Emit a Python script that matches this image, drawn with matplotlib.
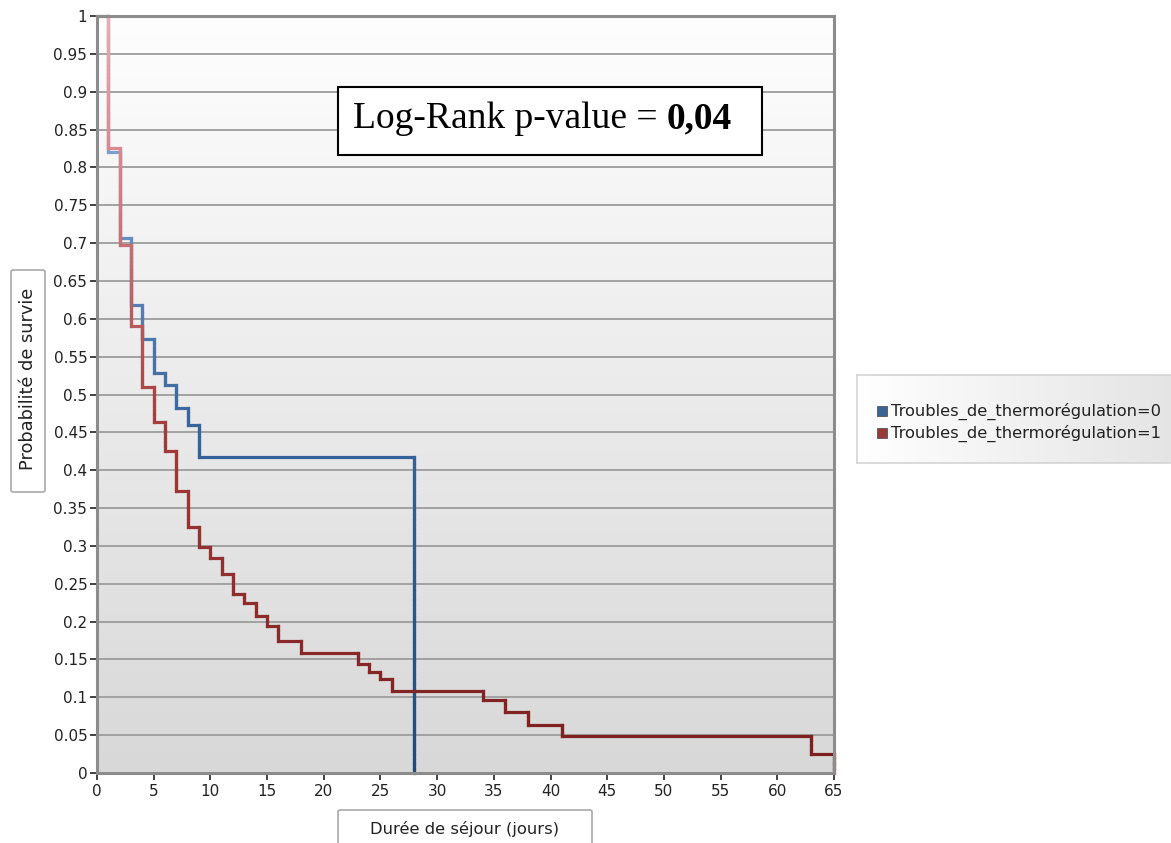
import numpy as np
import matplotlib
matplotlib.use("Agg")
import matplotlib.pyplot as plt
from matplotlib.collections import LineCollection
from matplotlib.colors import LinearSegmentedColormap
from matplotlib.patches import Rectangle, FancyBboxPatch

# Kaplan-Meier step curves: event times (days) and survival after each drop
times_0 = [0, 1, 2, 3, 4, 5, 6, 7, 8, 9, 28]
surv_0 = [1.0, 0.82, 0.707, 0.618, 0.573, 0.529, 0.513, 0.482, 0.46, 0.418, 0.0]
end_0 = 28

times_1 = [0, 1, 2, 3, 4, 5, 6, 7, 8, 9, 10, 11, 12, 13, 14, 15, 16, 18,
           23, 24, 25, 26, 34, 36, 38, 41, 63, 65]
surv_1 = [1.0, 0.826, 0.697, 0.59, 0.51, 0.464, 0.426, 0.373, 0.325, 0.298,
          0.284, 0.263, 0.237, 0.225, 0.207, 0.194, 0.174, 0.159,
          0.144, 0.134, 0.124, 0.108, 0.096, 0.080, 0.064, 0.049, 0.025, 0.0]
end_1 = 65

labels = ["Troubles_de_thermorégulation=0", "Troubles_de_thermorégulation=1"]
x_ticks = list(range(0, 66, 5))
y_ticks = [round(v * 0.05, 2) for v in range(21)]
pvalue_text = "0,04"

W, H = 1171, 843
fig = plt.figure(figsize=(W / 100, H / 100), dpi=100)
fig.patch.set_facecolor("white")

ax = fig.add_axes([97 / W, 1 - 773 / H, (834 - 97) / W, (773 - 16) / H])
ax.set_xlim(0, 65)
ax.set_ylim(0, 1)

# vertical gradient background of the plotting area
grad = np.linspace(0, 1, 256).reshape(-1, 1)
bg = LinearSegmentedColormap.from_list("bg", ["#d8d8d8", "#fefefe"])
ax.imshow(grad, extent=[0, 65, 0, 1], origin="lower", aspect="auto",
          cmap=bg, zorder=0, interpolation="bicubic")

for yv in y_ticks[1:-1]:
    ax.axhline(yv, color="#9c9c9c", lw=1.3, zorder=1)


def step_segments(t, s, t_end):
    pts = []
    for i in range(len(t)):
        if i > 0:
            pts.append((t[i], s[i - 1]))
        pts.append((t[i], s[i]))
    if t[-1] < t_end:
        pts.append((t_end, s[-1]))
    # subdivide so the colour can follow the height
    segs, mids = [], []
    for (x0, y0), (x1, y1) in zip(pts[:-1], pts[1:]):
        n = max(1, int(abs(y1 - y0) / 0.005))
        xs = np.linspace(x0, x1, n + 1)
        ys = np.linspace(y0, y1, n + 1)
        for k in range(n):
            segs.append([(xs[k], ys[k]), (xs[k + 1], ys[k + 1])])
            mids.append(0.5 * (ys[k] + ys[k + 1]))
    return segs, np.array(mids)


cmap_0 = LinearSegmentedColormap.from_list(
    "c0", [(0, "#1f4b7c"), (0.45, "#36649a"), (0.75, "#6d95c6"), (1, "#9ab8dc")])
cmap_1 = LinearSegmentedColormap.from_list(
    "c1", [(0, "#7a1e1e"), (0.45, "#a33a3a"), (0.75, "#cf7b7f"), (1, "#eeaab2")])

for t, s, te, cm, z in [(times_0, surv_0, end_0, cmap_0, 3),
                        (times_1, surv_1, end_1, cmap_1, 4)]:
    segs, mids = step_segments(t, s, te)
    lc = LineCollection(segs, cmap=cm, norm=plt.Normalize(0, 1),
                        linewidths=2.3, capstyle="projecting", zorder=z,
                        clip_on=False)
    lc.set_array(mids)
    ax.add_collection(lc)

ax.set_xticks(x_ticks)
ax.set_yticks(y_ticks)
ax.set_yticklabels([("%g" % v) for v in y_ticks])
ax.tick_params(axis="both", labelsize=11, colors="#222222",
               length=5, width=1.2, direction="out")
ax.tick_params(axis="x", pad=3)
ax.tick_params(axis="y", pad=2)
for sp in ax.spines.values():
    sp.set_color("#8c8c8c")
    sp.set_linewidth(2.2)
    sp.set_zorder(5)

# statistics box
fig.patches.append(Rectangle((338 / W, 1 - 155 / H), (762 - 338) / W,
                             (155 - 87) / H, transform=fig.transFigure,
                             facecolor="white", edgecolor="black", lw=1.5))
split_x = 667 / W
text_y = 1 - 119 / H
fig.text(split_x, text_y, "Log-Rank p-value = ", ha="right", va="center",
         fontsize=27, family="Liberation Serif")
fig.text(split_x, text_y, pvalue_text, ha="left", va="center",
         fontsize=27, family="Liberation Serif", fontweight="bold")

# axis title boxes
fig.patches.append(FancyBboxPatch((11 / W, 1 - 492 / H), (45 - 11) / W,
                                  (492 - 270) / H, boxstyle="round,pad=0,rounding_size=0.002",
                                  transform=fig.transFigure, facecolor="white",
                                  edgecolor="#a9a9a9", lw=1.2))
fig.text(28 / W, 1 - 379 / H, "Probabilité de survie", rotation=90,
         ha="center", va="center", fontsize=12.8, color="#222222")

fig.patches.append(FancyBboxPatch((338 / W, -0.02), (592 - 338) / W,
                                  0.02 + (843 - 810) / H,
                                  boxstyle="round,pad=0,rounding_size=0.002",
                                  transform=fig.transFigure, facecolor="white",
                                  edgecolor="#a9a9a9", lw=1.2))
fig.text(465 / W, 1 - 829 / H, "Durée de séjour (jours)",
         ha="center", va="center", fontsize=11.8, color="#222222")

# legend panel
lx0, ly0, lx1, ly1 = 857, 375, 1175, 463
lax = fig.add_axes([lx0 / W, 1 - ly1 / H, (lx1 - lx0) / W, (ly1 - ly0) / H])
lgrad = np.linspace(0, 1, 256).reshape(1, -1)
lax.imshow(lgrad, extent=[0, 1, 0, 1], aspect="auto",
           cmap=LinearSegmentedColormap.from_list("lg", ["#ffffff", "#e4e4e4"]))
lax.set_xlim(0, 1)
lax.set_ylim(0, 1)
lax.set_xticks([])
lax.set_yticks([])
for sp in lax.spines.values():
    sp.set_color("#d4d4d4")
    sp.set_linewidth(1.2)

sw_colors = ["#3c6595", "#983838"]
for i, (lab, c) in enumerate(zip(labels, sw_colors)):
    yc = 411 + i * 22
    fig.patches.append(Rectangle((877 / W, 1 - (yc + 5) / H), 10 / W, 10 / H,
                                 transform=fig.transFigure, facecolor=c,
                                 edgecolor="#555555", lw=0.6))
    fig.text(891 / W, 1 - yc / H, lab, ha="left", va="center",
             fontsize=11.7, color="#222222")

fig.savefig("out.png", dpi=100)
